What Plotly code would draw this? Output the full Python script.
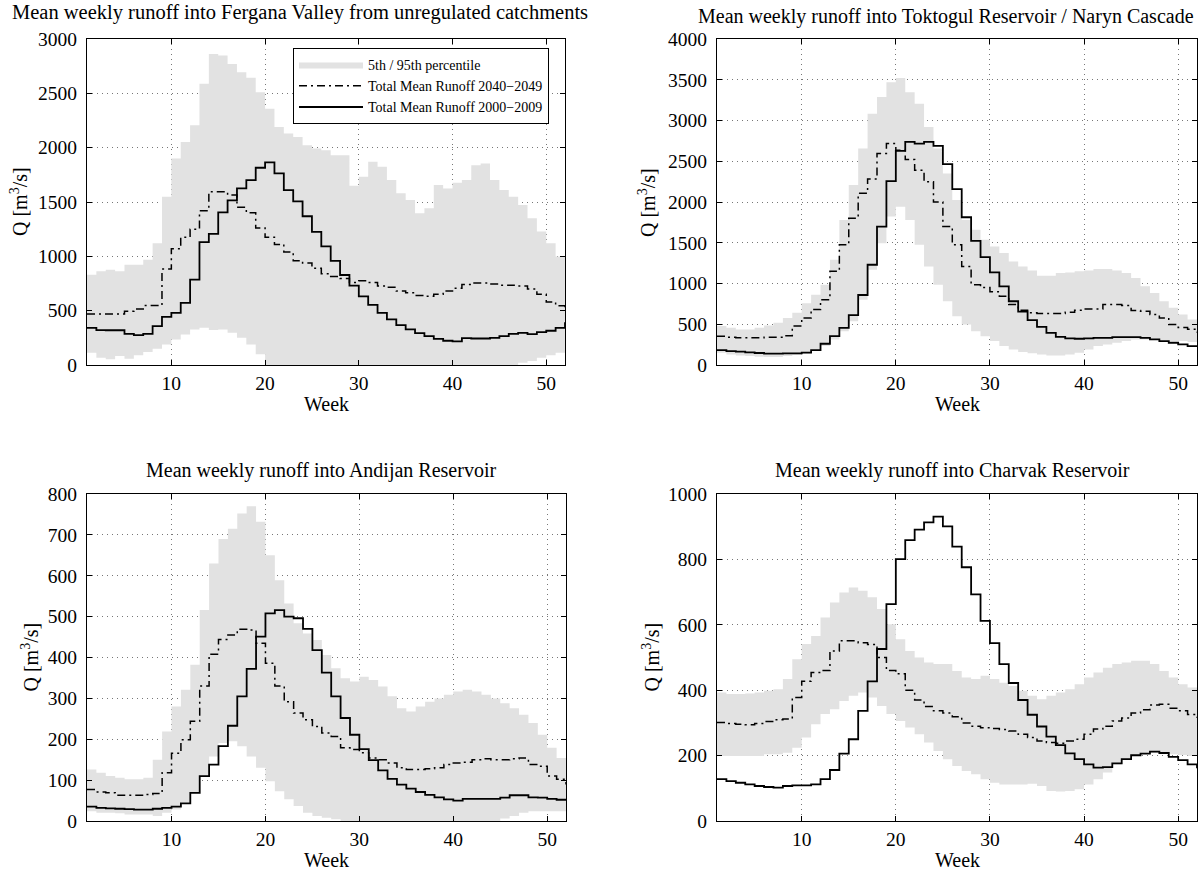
import plotly.graph_objects as go

weeks = list(range(1, 53))

# ---------------- Fergana Valley (unregulated catchments) ----------------
fer_p95 = [831, 862, 877, 862, 923, 923, 969, 1121, 1549, 1900,
           2053, 2206, 2588, 2863, 2848, 2771, 2695, 2643, 2511, 2359,
           2190, 2130, 2099, 2023, 1992, 1977, 1931, 1931, 1650, 1732,
           1870, 1824, 1702, 1580, 1518, 1396, 1442, 1656, 1625, 1677,
           1702, 1839, 1855, 1702, 1610, 1549, 1473, 1350, 1228, 1121,
           999, 923]
fer_p5 = [113, 67, 52, 82, 58, 89, 119, 150, 189, 235,
          281, 327, 342, 321, 327, 296, 250, 189, 98, 0,
          0, 0, 0, 0, 0, 0, 0, 0, 0, 0,
          0, 0, 0, 0, 0, 0, 0, 0, 0, 0,
          0, 0, 0, 0, 0, 0, 21, 37, 67, 89,
          113, 128]
fer_fut = [470, 470, 470, 470, 495, 516, 547, 547, 883, 1069,
           1176, 1250, 1420, 1595, 1595, 1564, 1451, 1400, 1260, 1176,
           1110, 1040, 960, 938, 890, 840, 815, 795, 760, 776,
           760, 728, 715, 680, 665, 640, 632, 650, 680, 706,
           740, 755, 755, 745, 735, 733, 728, 700, 650, 580,
           545, 510]
fer_cur = [342, 321, 320, 320, 287, 275, 287, 357, 443, 480,
           571, 785, 1130, 1207, 1405, 1515, 1625, 1702, 1815, 1864,
           1763, 1610, 1506, 1369, 1225, 1091, 959, 828, 730, 632,
           553, 480, 419, 367, 327, 293, 266, 241, 223, 217,
           247, 244, 244, 250, 266, 287, 296, 284, 302, 315,
           342, 394]

# ---------------- Toktogul Reservoir / Naryn Cascade ----------------
tok_p95 = [477, 456, 436, 436, 456, 485, 517, 578, 640, 758,
           863, 986, 1291, 1780, 2208, 2656, 3083, 3287, 3470, 3523,
           3348, 3206, 2920, 2656, 2350, 2024, 1780, 1658, 1536, 1454,
           1373, 1271, 1210, 1161, 1096, 1096, 1128, 1136, 1149, 1161,
           1177, 1177, 1161, 1128, 1067, 965, 884, 782, 701, 619,
           558, 497]
tok_p5 = [151, 130, 118, 110, 102, 98, 98, 110, 122, 138,
          179, 232, 314, 415, 538, 802, 1169, 1495, 1821, 1943,
          1780, 1475, 1210, 986, 782, 599, 497, 415, 354, 293,
          232, 191, 159, 143, 130, 118, 118, 130, 151, 191,
          232, 253, 273, 293, 314, 314, 314, 305, 293, 293,
          281, 273]
tok_fut = [354, 342, 334, 334, 334, 342, 342, 360, 480, 578,
           680, 802, 1149, 1475, 1800, 2106, 2281, 2595, 2717, 2635,
           2521, 2390, 2250, 2000, 1700, 1475, 1210, 985, 950, 900,
           843, 741, 672, 640, 631, 631, 631, 648, 672, 688,
           688, 741, 741, 729, 668, 660, 619, 578, 497, 460,
           440, 400]
tok_cur = [183, 171, 163, 155, 147, 139, 139, 143, 143, 151,
           183, 261, 354, 456, 611, 859, 1230, 1699, 2257, 2627,
           2737, 2717, 2737, 2688, 2464, 2159, 1813, 1523, 1324, 1136,
           965, 782, 656, 550, 468, 395, 346, 326, 322, 326,
           334, 334, 342, 342, 342, 334, 314, 293, 273, 253,
           232, 232]

# ---------------- Andijan Reservoir ----------------
and_p95 = [126, 118, 110, 106, 102, 102, 106, 150, 219, 280,
           321, 382, 516, 630, 690, 715, 752, 770, 732, 650,
           589, 532, 484, 459, 443, 406, 374, 349, 341, 353,
           345, 329, 305, 276, 268, 280, 292, 300, 309, 317,
           321, 317, 309, 300, 288, 276, 260, 240, 211, 179,
           154, 154]
and_p5 = [24, 20, 20, 19, 16, 16, 16, 12, 20, 28,
          45, 69, 110, 158, 191, 195, 183, 158, 130, 97,
          73, 53, 37, 20, 12, 8, 4, 0, 0, 0,
          0, 0, 0, 0, 0, 0, 0, 0, 0, 0,
          0, 0, 0, 0, 6, 12, 20, 24, 24, 24,
          24, 24]
and_fut = [77, 71, 69, 63, 63, 63, 65, 67, 118, 166,
           199, 244, 330, 408, 444, 455, 469, 467, 435, 386,
           330, 292, 264, 248, 231, 215, 207, 179, 175, 167,
           154, 150, 142, 130, 126, 126, 128, 130, 138, 142,
           144, 150, 152, 150, 150, 152, 154, 138, 134, 110,
           102, 89]
and_cur = [35, 32, 31, 30, 29, 28, 28, 30, 32, 35,
           43, 69, 110, 138, 183, 233, 305, 372, 451, 508,
           516, 500, 496, 470, 418, 363, 305, 252, 211, 176,
           149, 124, 103, 89, 79, 71, 64, 58, 53, 50,
           54, 54, 54, 54, 57, 63, 63, 58, 57, 54,
           52, 50]

# ---------------- Charvak Reservoir ----------------
cha_p95 = [393, 388, 388, 390, 393, 398, 403, 434, 495, 541,
           566, 622, 668, 699, 714, 704, 684, 648, 602, 556,
           520, 500, 485, 480, 480, 459, 439, 434, 444, 434,
           423, 413, 398, 383, 372, 383, 393, 403, 418, 439,
           454, 469, 480, 485, 490, 490, 480, 459, 439, 418,
           408, 403]
cha_p5 = [199, 199, 199, 199, 199, 204, 204, 209, 224, 255,
          296, 327, 342, 367, 383, 393, 378, 352, 327, 306,
          286, 265, 240, 214, 189, 168, 153, 143, 128, 117,
          112, 112, 112, 114, 107, 92, 90, 92, 97, 112,
          128, 148, 173, 189, 199, 206, 209, 206, 204, 202,
          199, 194]
cha_fut = [301, 298, 296, 294, 298, 304, 310, 312, 378, 427,
           454, 460, 520, 551, 551, 545, 540, 500, 460, 450,
           400, 370, 350, 337, 330, 319, 300, 290, 285, 283,
           280, 275, 265, 255, 245, 240, 238, 245, 250, 265,
           281, 290, 306, 315, 330, 340, 355, 357, 345, 337,
           326, 316]
cha_cur = [128, 122, 117, 112, 107, 104, 102, 107, 109, 109,
           112, 128, 156, 206, 250, 337, 427, 526, 663, 801,
           859, 891, 913, 931, 901, 839, 776, 693, 612, 544,
           480, 422, 370, 325, 289, 258, 232, 207, 189, 173,
           163, 165, 176, 189, 201, 206, 212, 208, 196, 186,
           173, 161]

titles = ["Mean weekly runoff into Fergana Valley from unregulated catchments",
          "Mean weekly runoff into Toktogul Reservoir / Naryn Cascade",
          "Mean weekly runoff into Andijan Reservoir",
          "Mean weekly runoff into Charvak Reservoir"]
y_max = [3000, 4000, 800, 1000]
y_step = [500, 500, 100, 200]
x_ticks = [10, 20, 30, 40, 50]

legend_names = ["5th / 95th percentile",
                "Total Mean Runoff 2040\u22122049",
                "Total Mean Runoff 2000\u22122009"]

series = [(fer_p5, fer_p95, fer_fut, fer_cur),
          (tok_p5, tok_p95, tok_fut, tok_cur),
          (and_p5, and_p95, and_fut, and_cur),
          (cha_p5, cha_p95, cha_fut, cha_cur)]

# ---------------- layout geometry (reference pixels) ----------------
W, H = 1198, 872
def px(x):
    return x / W
def py(y):
    return 1 - y / H

x_dom_px = [(87, 565), (717, 1197), (87, 566), (717, 1197)]
y_dom_px = [(39, 365), (39, 365), (494, 821), (494, 821)]
title_x_px = [300, 946, 321, 952]
title_y_px = [13, 17, 470, 470]
title_size = [20.5, 20, 20, 20]
ylab_x_px = [19, 647, 29, 650]
week_y_px = [404, 404, 860, 860]

FONT = "Liberation Serif"
BAND = "rgb(226,226,226)"

fig = go.Figure()
annotations = []
layout_axes = {}

for i in range(4):
    sfx = "" if i == 0 else str(i + 1)
    xa, ya = "x" + sfx, "y" + sfx
    p5, p95, fut, cur = series[i]
    first = (i == 0)
    fig.add_trace(go.Scatter(x=weeks, y=p5, mode="lines", line=dict(width=0, shape="hv"),
                             showlegend=False, hoverinfo="skip", xaxis=xa, yaxis=ya))
    fig.add_trace(go.Scatter(x=weeks, y=p95, mode="lines", line=dict(width=0, shape="hv"),
                             fill="tonexty", fillcolor=BAND, name=legend_names[0],
                             showlegend=first, xaxis=xa, yaxis=ya))
    fig.add_trace(go.Scatter(x=weeks, y=fut, mode="lines",
                             line=dict(color="black", width=1.5, shape="hv", dash="8px,4px,2px,4px"),
                             name=legend_names[1], showlegend=first, xaxis=xa, yaxis=ya))
    fig.add_trace(go.Scatter(x=weeks, y=cur, mode="lines",
                             line=dict(color="black", width=1.8, shape="hv"),
                             name=legend_names[2], showlegend=first, xaxis=xa, yaxis=ya))

    common = dict(showline=True, linecolor="black", linewidth=1, mirror="ticks",
                  ticks="inside", ticklen=5, tickcolor="black", tickwidth=1,
                  showgrid=True, gridcolor="#777777", gridwidth=1, griddash="1px,4px",
                  zeroline=False, automargin=False,
                  tickfont=dict(family=FONT, size=19.5, color="black"))
    layout_axes["xaxis" + sfx] = dict(common, domain=[px(x_dom_px[i][0]), px(x_dom_px[i][1])],
                                      range=[1, 52], tickvals=x_ticks, anchor=ya,
                                      ticklabelstandoff=1)
    layout_axes["yaxis" + sfx] = dict(common, domain=[py(y_dom_px[i][1]), py(y_dom_px[i][0])],
                                      range=[0, y_max[i]], dtick=y_step[i], tick0=0, anchor=xa,
                                      ticklabelstandoff=5)

    cx = px((x_dom_px[i][0] + x_dom_px[i][1]) / 2)
    annotations.append(dict(text=titles[i], x=px(title_x_px[i]), y=py(title_y_px[i]),
                            xref="paper", yref="paper",
                            showarrow=False, xanchor="center", yanchor="middle",
                            font=dict(family=FONT, size=title_size[i], color="black")))
    annotations.append(dict(text="Week", x=cx, y=py(week_y_px[i]), xref="paper", yref="paper",
                            showarrow=False, xanchor="center", yanchor="middle",
                            font=dict(family=FONT, size=20, color="black")))
    cy = py((y_dom_px[i][0] + y_dom_px[i][1]) / 2)
    annotations.append(dict(text="Q [m<sup>3</sup>/s]", x=px(ylab_x_px[i]), y=cy,
                            xref="paper", yref="paper", textangle=-90,
                            showarrow=False, xanchor="center", yanchor="middle",
                            font=dict(family=FONT, size=20, color="black")))

fig.update_layout(
    width=W, height=H,
    margin=dict(l=0, r=0, t=0, b=0),
    paper_bgcolor="white", plot_bgcolor="white",
    font=dict(family=FONT, size=16, color="black"),
    annotations=annotations,
    showlegend=True,
    legend=dict(x=px(293), y=py(48), xanchor="left", yanchor="top",
                bgcolor="white", bordercolor="black", borderwidth=1,
                font=dict(family=FONT, size=14, color="black"),
                itemwidth=64, tracegroupgap=0, traceorder="normal"),
    **layout_axes,
)

fig.write_html("out.html",
               config={"displayModeBar": False},
               post_script="document.body.style.margin='0';document.body.style.overflow='hidden';")
